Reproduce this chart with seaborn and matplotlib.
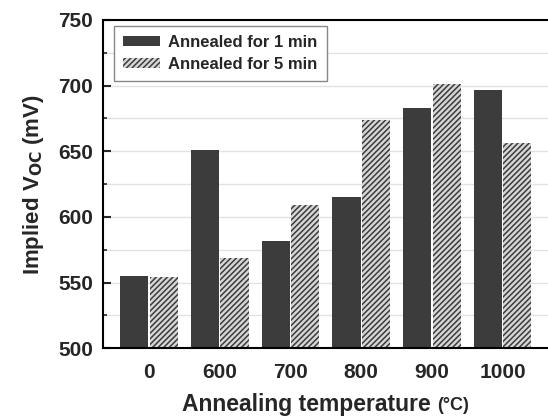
import matplotlib
matplotlib.use("Agg")
import matplotlib.pyplot as plt
import seaborn as sns
import pandas as pd
from matplotlib.ticker import MultipleLocator

temperatures = ["0", "600", "700", "800", "900", "1000"]
series_names = ["Annealed for 1 min", "Annealed for 5 min"]
voc_1min = [555, 651, 582, 615, 683, 697]
voc_5min = [554, 569, 609, 674, 701, 656]

df = pd.DataFrame({
    "temp": temperatures * 2,
    "voc": voc_1min + voc_5min,
    "series": [series_names[0]] * len(temperatures) + [series_names[1]] * len(temperatures),
})

sns.set_theme(style="white")
plt.rcParams["font.family"] = ["Liberation Sans", "DejaVu Sans"]
plt.rcParams["font.weight"] = "bold"
plt.rcParams["hatch.linewidth"] = 1.1

fig = plt.figure(figsize=(5.48, 4.16), dpi=100)
ax = fig.add_axes([0.188, 0.163, 0.812, 0.789])

sns.barplot(data=df, x="temp", y="voc", hue="series", order=temperatures,
            hue_order=series_names, palette=["#3c3c3c", "#d6d6d6"],
            width=0.83, gap=0.04, saturation=1, ax=ax, zorder=2)

for patch in ax.containers[1]:
    patch.set_hatch("//////")
    patch.set_edgecolor("#3c3c3c")
    patch.set_linewidth(0)
for patch in ax.containers[0]:
    patch.set_edgecolor("#3c3c3c")
    patch.set_linewidth(0)

ax.set_ylim(500, 750)
ax.set_xlim(-0.65, 5.64)
ax.yaxis.set_major_locator(MultipleLocator(50))
ax.yaxis.set_minor_locator(MultipleLocator(25))
ax.grid(axis="y", which="both", color="#e2e2e2", linewidth=1, zorder=0)
ax.set_axisbelow(True)

for s in ["left", "bottom", "top"]:
    ax.spines[s].set_visible(True)
    ax.spines[s].set_color("black")
    ax.spines[s].set_linewidth(1.5)
ax.spines["right"].set_visible(False)

ax.tick_params(axis="y", which="major", direction="in", length=6, width=1.5,
               left=True, labelsize=15, pad=7)
ax.tick_params(axis="y", which="minor", direction="in", length=3, width=1.2, left=True)
ax.tick_params(axis="x", which="both", bottom=False, labelsize=15, pad=5)
for lab in ax.get_xticklabels() + ax.get_yticklabels():
    lab.set_fontweight("bold")

ax.set_xlabel("")
ax.set_ylabel("Implied V$_{\\mathbf{OC}}$ (mV)", fontsize=16, fontweight="bold", labelpad=9)

# x label: main text plus smaller unit, centred together under the axes
fig.canvas.draw()
renderer = fig.canvas.get_renderer()
ylab_px = 416 - 405
main = fig.text(0, ylab_px / 416, "Annealing temperature ", fontsize=16.5,
                fontweight="bold", va="center", ha="left")
unit = fig.text(0, ylab_px / 416, "(°C)", fontsize=13, fontweight="bold",
                va="center", ha="left")
w_main = main.get_window_extent(renderer).width
w_unit = unit.get_window_extent(renderer).width
total = w_main + w_unit
cx = (103 + 548) / 2
x0 = cx - total / 2
main.set_x(x0 / 548)
unit.set_x((x0 + w_main) / 548)

leg = ax.legend(loc="upper left", bbox_to_anchor=(0.025, 0.982), borderaxespad=0,
                frameon=True, fancybox=False, edgecolor="#888888", framealpha=1,
                prop={"weight": "bold", "size": 12}, handlelength=2.2,
                handleheight=0.55, borderpad=0.55, labelspacing=0.4, handletextpad=0.5)
leg.get_frame().set_linewidth(1.0)
leg.set_title(None)
handles = leg.legend_handles
handles[0].set_linewidth(0)
handles[1].set_hatch("//////")
handles[1].set_edgecolor("#3c3c3c")
handles[1].set_linewidth(0)

fig.savefig("out.png", dpi=100)
